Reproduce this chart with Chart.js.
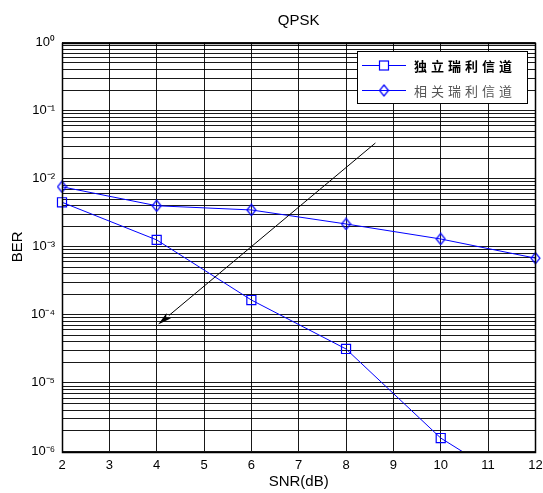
<!DOCTYPE html>
<html><head><meta charset="utf-8">
<script src="https://cdn.jsdelivr.net/npm/chart.js@4/dist/chart.umd.min.js"></script>
<style>html,body{margin:0;padding:0;background:#fff}#wrap{width:543px;height:493px}</style>
</head><body><div id="wrap"><canvas id="c" width="543" height="493"></canvas></div>
<script>
// ---- data ----
const snr = [2, 4, 6, 8, 10, 12];
const berIndep = [4.5e-3, 1.26e-3, 1.65e-4, 3.15e-5, 1.55e-6, 2.1e-7];
const berCorr  = [7.6e-3, 4.0e-3, 3.47e-3, 2.16e-3, 1.3e-3, 6.8e-4];
const seriesLabels = ['独立瑞利信道', '相关瑞利信道'];
const xTickValues = [2, 3, 4, 5, 6, 7, 8, 9, 10, 11, 12];
const yDecades = [-6, -5, -4, -3, -2, -1, 0];
const yTickLabels = ['10⁻⁶', '10⁻⁵', '10⁻⁴', '10⁻³', '10⁻²', '10⁻¹', '10⁰'];
const arrowFrom = [8.62, 0.0334];
const arrowTo = [4.03, 7.2e-5];
const titleText = 'QPSK';
const xTitle = 'SNR(dB)';
const yTitle = 'BER';

const FONT = "'Liberation Sans', Arial, sans-serif";
const BLUE = '#0000ff';

// diamond marker image (MATLAB style, narrow)
function makeDiamond() {
  const c = document.createElement('canvas');
  c.width = 11; c.height = 13;
  const g = c.getContext('2d');
  g.strokeStyle = BLUE; g.lineWidth = 1.2;
  g.beginPath();
  g.moveTo(5.5, 1); g.lineTo(10, 6.5); g.lineTo(5.5, 12); g.lineTo(1, 6.5); g.closePath();
  g.stroke();
  return c;
}
const diamondImg = makeDiamond();

const toPts = (xs, ys) => xs.map((x, i) => ({x: x, y: ys[i]}));

const decoPlugin = {
  id: 'deco',
  afterDatasetsDraw(chart) {
    const ctx = chart.ctx, ca = chart.chartArea;
    const xs = chart.scales.x, ys = chart.scales.y;
    ctx.save();
    // arrow
    const x1 = xs.getPixelForValue(arrowFrom[0]), y1 = ys.getPixelForValue(arrowFrom[1]);
    const x2 = xs.getPixelForValue(arrowTo[0]), y2 = ys.getPixelForValue(arrowTo[1]);
    const ang = Math.atan2(y2 - y1, x2 - x1);
    const L = 14, W = 3.5;
    const bx = x2 - L * Math.cos(ang), by = y2 - L * Math.sin(ang);
    ctx.strokeStyle = '#000'; ctx.lineWidth = 1;
    ctx.beginPath(); ctx.moveTo(x1, y1); ctx.lineTo(bx, by); ctx.stroke();
    ctx.fillStyle = '#000';
    ctx.beginPath();
    ctx.moveTo(x2, y2);
    ctx.lineTo(bx + W * Math.sin(ang), by - W * Math.cos(ang));
    ctx.lineTo(x2 - (L*0.75) * Math.cos(ang), y2 - (L*0.75) * Math.sin(ang));
    ctx.lineTo(bx - W * Math.sin(ang), by + W * Math.cos(ang));
    ctx.closePath(); ctx.fill();
    // axes box
    ctx.strokeStyle = '#000'; ctx.lineWidth = 1.5;
    ctx.strokeRect(Math.round(ca.left) + 0.5, Math.round(ca.top) + 0.5,
                   Math.round(ca.right - ca.left), Math.round(ca.bottom - ca.top));
    // legend
    const lx = 357, ly = 51, lw = 170, lh = 52;
    ctx.fillStyle = '#fff'; ctx.fillRect(lx, ly, lw, lh);
    ctx.strokeStyle = '#000'; ctx.lineWidth = 1;
    ctx.strokeRect(lx + 0.5, ly + 0.5, lw, lh);
    const rows = [65, 90];
    const textColors = ['#000', '#555'];
    chart.data.datasets.forEach((ds, i) => {
      const ry = rows[i];
      ctx.strokeStyle = BLUE; ctx.lineWidth = 1;
      ctx.beginPath(); ctx.moveTo(362, ry + 0.5); ctx.lineTo(406, ry + 0.5); ctx.stroke();
      if (i === 0) {
        ctx.strokeStyle = BLUE; ctx.lineWidth = 1.2;
        ctx.clearRect(380, ry - 4, 9, 9);
        ctx.strokeRect(379.5, ry - 4, 9, 9);
      } else {
        ctx.drawImage(diamondImg, 384 - 5.5, ry - 6);
      }
      ctx.fillStyle = textColors[i];
      ctx.font = (i === 0 ? '600 ' : '') + "13px 'Noto Sans CJK SC', sans-serif";
      ctx.textBaseline = 'middle'; ctx.textAlign = 'left';
      if ('letterSpacing' in ctx) ctx.letterSpacing = '4px';
      ctx.fillText(ds.label, 414, ry + 1);
      if ('letterSpacing' in ctx) ctx.letterSpacing = '0px';
    });
    // title
    ctx.fillStyle = '#000';
    ctx.font = '15px ' + FONT;
    ctx.textAlign = 'center'; ctx.textBaseline = 'middle';
    ctx.fillText(titleText, (ca.left + ca.right) / 2, 21);
    ctx.restore();
  }
};

new Chart(document.getElementById('c'), {
  type: 'line',
  data: {
    datasets: [
      {
        label: seriesLabels[0],
        data: toPts(snr, berIndep),
        borderColor: BLUE, borderWidth: 1,
        pointStyle: 'rect', pointRadius: 6.4,
        pointBorderColor: BLUE, pointBorderWidth: 1.2,
        pointBackgroundColor: 'rgba(0,0,0,0)',
        clip: {left: 10, right: 10, top: 10, bottom: 0},
        tension: 0
      },
      {
        label: seriesLabels[1],
        data: toPts(snr, berCorr),
        borderColor: BLUE, borderWidth: 1,
        pointStyle: diamondImg,
        pointBorderColor: BLUE,
        pointBackgroundColor: 'rgba(0,0,0,0)',
        clip: false,
        tension: 0
      }
    ]
  },
  options: {
    responsive: false,
    devicePixelRatio: 1,
    animation: false,
    events: [],
    layout: {padding: {top: 42.5, right: 6, left: 0, bottom: 0}},
    plugins: {legend: {display: false}, title: {display: false}, tooltip: {enabled: false}},
    scales: {
      x: {
        type: 'linear', min: 2, max: 12,
        afterBuildTicks: s => { s.ticks = xTickValues.map(v => ({value: v})); },
        afterFit: s => { s.height = 42; s.paddingLeft = 0; s.paddingRight = 0; },
        grid: {color: 'rgba(0,0,0,0.9)', lineWidth: 1, drawTicks: false},
        border: {display: false},
        ticks: {autoSkip: false, maxRotation: 0, padding: 7, color: '#000',
                font: {family: FONT, size: 13}},
        title: {display: true, text: xTitle, color: '#000',
                font: {family: FONT, size: 15}, padding: {top: 0, bottom: 2}}
      },
      y: {
        type: 'logarithmic', min: 1e-6, max: 1,
        afterBuildTicks: s => {
          const t = [];
          yDecades.forEach(d => {
            for (let m = 1; m <= 9; m++) {
              const v = Number((m * Math.pow(10, d)).toPrecision(12));
              if (v <= 1) t.push({value: v});
            }
          });
          s.ticks = t;
        },
        afterFit: s => { s.width = 62; s.paddingTop = 0; s.paddingBottom = 0; },
        grid: {color: 'rgba(0,0,0,0.9)', lineWidth: 1, drawTicks: false},
        border: {display: false},
        ticks: {
          autoSkip: false, padding: 7, color: '#000',
          font: {family: FONT, size: 13},
          callback: (v) => {
            const lg = Math.log10(v);
            const i = yDecades.findIndex(d => Math.abs(d - lg) < 1e-9);
            return i >= 0 ? yTickLabels[i] : '';
          }
        },
        title: {display: true, text: yTitle, color: '#000',
                font: {family: FONT, size: 15}, padding: {top: 9, bottom: 0}}
      }
    }
  },
  plugins: [decoPlugin]
});
</script>
</body></html>
